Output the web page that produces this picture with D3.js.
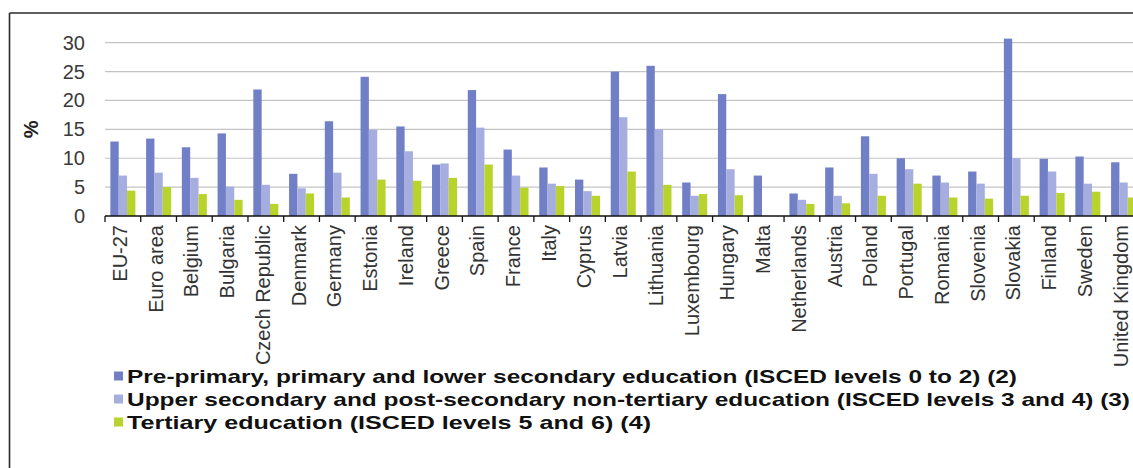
<!DOCTYPE html>
<html>
<head>
<meta charset="utf-8">
<script src="https://cdn.jsdelivr.net/npm/d3@7"></script>
<style>
  body { margin: 0; background: #fff; }
  svg { display: block; }
</style>
</head>
<body>
<svg id="chart" width="1133" height="468"></svg>
<script>
// countries along the x axis
var countries = ["EU-27", "Euro area", "Belgium", "Bulgaria", "Czech Republic", "Denmark",
  "Germany", "Estonia", "Ireland", "Greece", "Spain", "France", "Italy", "Cyprus", "Latvia",
  "Lithuania", "Luxembourg", "Hungary", "Malta", "Netherlands", "Austria", "Poland",
  "Portugal", "Romania", "Slovenia", "Slovakia", "Finland", "Sweden", "United Kingdom"]

// ISCED 0-2
var lowEdu = [12.9, 13.4, 11.9, 14.3, 21.9, 7.3, 16.4, 24.1, 15.5, 8.9, 21.8, 11.5, 8.4, 6.3, 25.0,
  26.0, 5.8, 21.1, 7.0, 3.9, 8.4, 13.8, 10.0, 7.0, 7.7, 30.7, 9.9, 10.3, 9.3]
// ISCED 3-4 (Malta not available)
var midEdu = [7.0, 7.5, 6.6, 5.1, 5.4, 4.8, 7.5, 14.9, 11.2, 9.1, 15.3, 7.0, 5.6, 4.3, 17.1,
  15.0, 3.5, 8.1, null, 2.8, 3.5, 7.3, 8.1, 5.8, 5.6, 10.0, 7.7, 5.6, 5.8]
// ISCED 5-6 (Malta not available)
var highEdu = [4.4, 5.0, 3.8, 2.8, 2.1, 3.9, 3.2, 6.3, 6.1, 6.6, 8.9, 4.9, 5.2, 3.5, 7.7,
  5.4, 3.8, 3.6, null, 2.1, 2.2, 3.5, 5.6, 3.2, 3.0, 3.5, 4.0, 4.2, 3.2]

var seriesNames = [
  "Pre-primary, primary and lower secondary education (ISCED levels 0 to 2) (2)",
  "Upper secondary and post-secondary non-tertiary education (ISCED levels 3 and 4) (3)",
  "Tertiary education (ISCED levels 5 and 6) (4)"]
var seriesColors = ["#7180c6", "#a6aee0", "#b8d42c"]
var yTicks = [0, 5, 10, 15, 20, 25, 30]

var keys = ["s0", "s1", "s2"]
var rows = countries.map(function (c, i) {
  return { country: c, s0: lowEdu[i], s1: midEdu[i], s2: highEdu[i] }
})

var margin = { left: 105 }
var step = 35.74
var plotWidth = step * countries.length

var svg = d3.select("#chart")

// frame
svg.append("line").attr("x1", 9.5).attr("x2", 1133).attr("y1", 13).attr("y2", 13)
  .attr("stroke", "#2a2a2a").attr("stroke-width", 1.6)
svg.append("line").attr("x1", 9.5).attr("x2", 9.5).attr("y1", 13).attr("y2", 468)
  .attr("stroke", "#2a2a2a").attr("stroke-width", 1.6)

var g = svg.append("g").attr("transform", "translate(" + margin.left + ",0)")

var x0 = d3.scaleBand()
  .domain(countries)
  .range([0, plotWidth])
  .paddingInner(0.3)
  .paddingOuter(0.15)

var x1 = d3.scaleBand()
  .domain(keys)
  .range([0, x0.bandwidth()])

var y = d3.scaleLinear()
  .domain([0, 30])
  .range([216, 42.7])

// gridlines
g.selectAll(".grid")
  .data(yTicks.filter(function (d) { return d > 0 }))
  .enter()
  .append("line")
  .attr("x1", 0)
  .attr("x2", plotWidth)
  .attr("y1", function (d) { return y(d) })
  .attr("y2", function (d) { return y(d) })
  .attr("stroke", "#c4c4c4")
  .attr("stroke-width", 1.2)

// y labels
g.selectAll(".ylab")
  .data(yTicks)
  .enter()
  .append("text")
  .attr("x", -20)
  .attr("y", function (d) { return y(d) })
  .attr("dy", "0.35em")
  .attr("text-anchor", "end")
  .style("font-family", "'Liberation Sans', Arial, sans-serif")
  .style("font-size", "20px")
  .style("fill", "#3a3a3a")
  .text(function (d) { return d })

svg.append("text")
  .attr("transform", "translate(31," + y(15) + ")rotate(-90)")
  .attr("text-anchor", "middle")
  .attr("dy", "0.35em")
  .style("font-family", "'Liberation Sans', Arial, sans-serif")
  .style("font-size", "20px")
  .style("font-weight", "bold")
  .style("fill", "#222")
  .text("%")

// bars
var groups = g.selectAll(".grp")
  .data(rows)
  .enter()
  .append("g")
  .attr("transform", function (d) { return "translate(" + x0(d.country) + ",0)" })

groups.selectAll("rect")
  .data(function (d) {
    return keys.map(function (k, i) { return { key: k, value: d[k], i: i } })
      .filter(function (e) { return e.value != null })
  })
  .enter()
  .append("rect")
  .attr("x", function (d) { return x1(d.key) })
  .attr("width", x1.bandwidth())
  .attr("y", function (d) { return y(d.value) })
  .attr("height", function (d) { return y(0) - y(d.value) })
  .attr("fill", function (d) { return seriesColors[d.i] })

// x axis line and tick marks between categories
g.append("line")
  .attr("x1", 0).attr("x2", plotWidth)
  .attr("y1", y(0)).attr("y2", y(0))
  .attr("stroke", "#111").attr("stroke-width", 1.5)

var tickPos = d3.range(countries.length + 1).map(function (i) { return i * x0.step() })
g.selectAll(".tk")
  .data(tickPos)
  .enter()
  .append("line")
  .attr("x1", function (d) { return d })
  .attr("x2", function (d) { return d })
  .attr("y1", y(0))
  .attr("y2", y(0) + 6)
  .attr("stroke", "#111")
  .attr("stroke-width", 1.3)

// rotated country labels
g.selectAll(".xlab")
  .data(countries)
  .enter()
  .append("text")
  .attr("transform", function (d) {
    return "translate(" + (x0(d) + x0.bandwidth() / 2) + "," + (y(0) + 9) + ")rotate(-90)"
  })
  .attr("dy", "0.2em")
  .attr("text-anchor", "end")
  .style("font-family", "'Liberation Sans', Arial, sans-serif")
  .style("font-size", "20px")
  .style("fill", "#333")
  .text(function (d) { return d })

// legend
var legendRowY = [376, 399, 422]
var textStart = 127
var legendEnds = [1017, 1130, 651]
var legend = svg.selectAll(".leg")
  .data(seriesNames)
  .enter()
  .append("g")
  .attr("transform", function (d, i) { return "translate(0," + legendRowY[i] + ")" })

legend.append("rect")
  .attr("x", 114)
  .attr("y", -4.5)
  .attr("width", 9)
  .attr("height", 9)
  .attr("fill", function (d, i) { return seriesColors[i] })

legend.append("text")
  .attr("x", textStart)
  .attr("dy", "0.36em")
  .attr("textLength", function (d, i) { return legendEnds[i] - textStart })
  .attr("lengthAdjust", "spacingAndGlyphs")
  .style("font-family", "'Liberation Sans', Arial, sans-serif")
  .style("font-size", "19px")
  .style("font-weight", "bold")
  .style("fill", "#111")
  .text(function (d) { return d })
</script>
</body>
</html>
